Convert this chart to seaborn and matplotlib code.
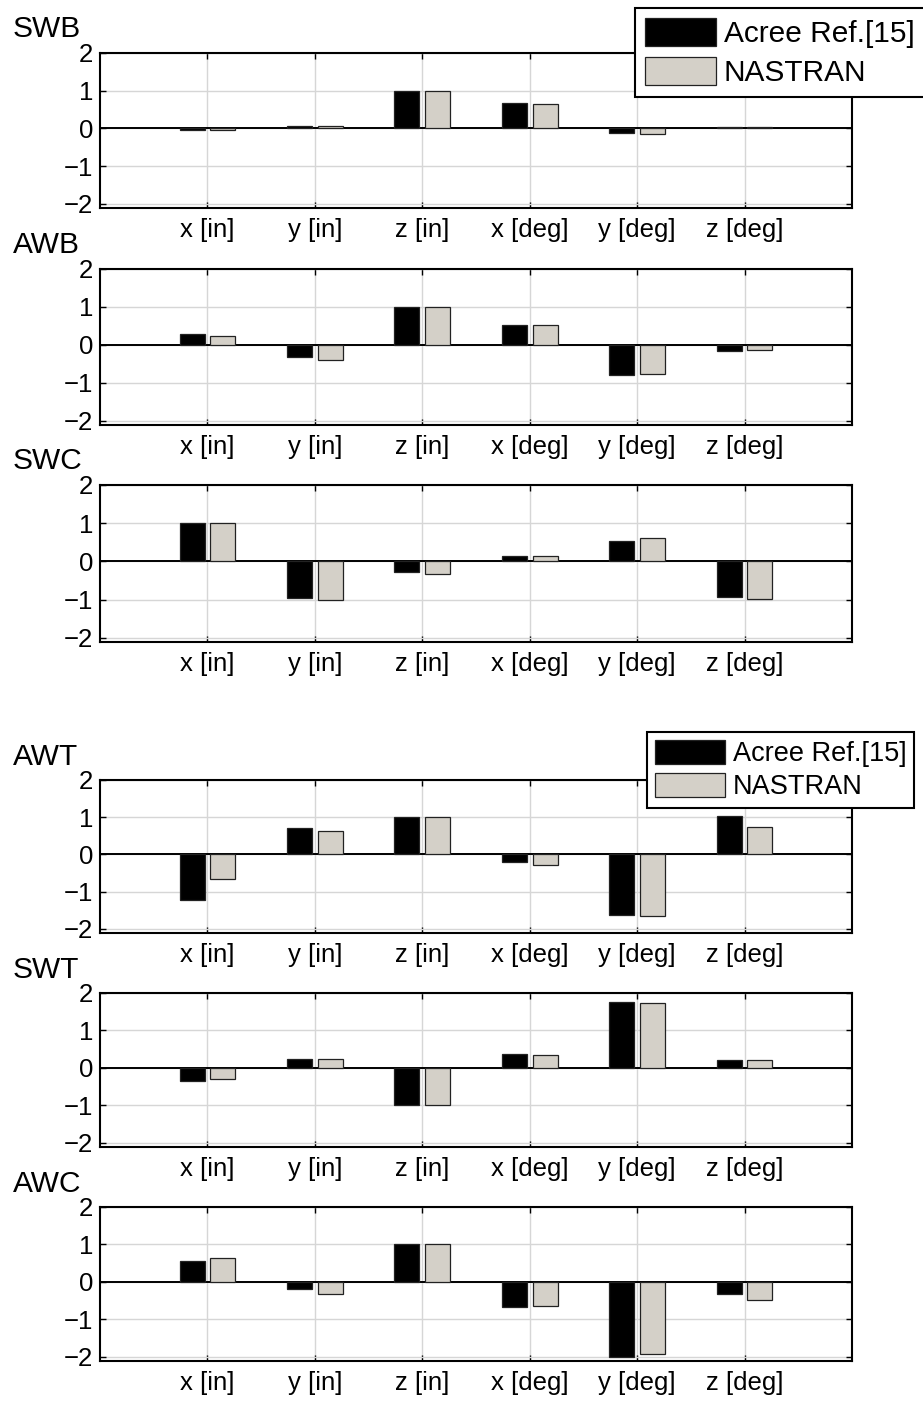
import matplotlib
matplotlib.use("Agg")
import matplotlib.pyplot as plt
import matplotlib.patches as mpatches
import pandas as pd
import seaborn as sns

# ---------------- data ----------------
categories = ["x [in]", "y [in]", "z [in]", "x [deg]", "y [deg]", "z [deg]"]
series_names = ["Acree Ref.[15]", "NASTRAN"]
panel_names = ["SWB", "AWB", "SWC", "AWT", "SWT", "AWC"]

swb_acree = [-0.03, 0.07, 1.00, 0.67, -0.13, 0.03]
swb_nastran = [-0.03, 0.07, 1.00, 0.65, -0.16, 0.03]
awb_acree = [0.30, -0.32, 1.00, 0.52, -0.80, -0.17]
awb_nastran = [0.24, -0.39, 1.00, 0.53, -0.77, -0.14]
swc_acree = [1.00, -0.95, -0.29, 0.15, 0.54, -0.93]
swc_nastran = [1.00, -1.02, -0.34, 0.14, 0.60, -0.99]
awt_acree = [-1.23, 0.70, 1.00, -0.19, -1.62, 1.04]
awt_nastran = [-0.65, 0.64, 1.00, -0.27, -1.66, 0.74]
swt_acree = [-0.35, 0.23, -1.00, 0.36, 1.77, 0.20]
swt_nastran = [-0.29, 0.24, -1.00, 0.35, 1.72, 0.21]
awc_acree = [0.57, -0.18, 1.00, -0.68, -2.00, -0.33]
awc_nastran = [0.63, -0.32, 1.00, -0.65, -1.93, -0.47]

y_ticks = [-2, -1, 0, 1, 2]

panel_data = [
    (swb_acree, swb_nastran),
    (awb_acree, awb_nastran),
    (swc_acree, swc_nastran),
    (awt_acree, awt_nastran),
    (swt_acree, swt_nastran),
    (awc_acree, awc_nastran),
]

# ---------------- style ----------------
sns.set_style("white")
plt.rcParams["font.family"] = ["Liberation Sans", "DejaVu Sans"]
plt.rcParams["text.color"] = "black"

BLACK = "#000000"
GRAY = "#D4D0C8"
palette = [BLACK, GRAY]

W, H = 923, 1401
fig = plt.figure(figsize=(W / 100, H / 100), dpi=100)

left_px, right_px = 100, 852
tops = [53, 269, 485, 780, 993, 1207]
bottoms = [208, 425, 642, 933, 1147, 1361]

axes = []
for name, (acree, nastran), top, bot in zip(panel_names, panel_data, tops, bottoms):
    ax = fig.add_axes([left_px / W, 1 - bot / H, (right_px - left_px) / W, (bot - top) / H])
    df = pd.DataFrame({
        "category": categories * 2,
        "series": [series_names[0]] * len(categories) + [series_names[1]] * len(categories),
        "value": list(acree) + list(nastran),
    })
    sns.barplot(data=df, x="category", y="value", hue="series", order=categories,
                hue_order=series_names, palette=palette, saturation=1,
                width=0.572, gap=0.185, edgecolor="#222222", linewidth=0.9,
                errorbar=None, legend=False, ax=ax, zorder=3)
    ax.set_xlim(-1, len(categories))
    ax.set_ylim(-2.11, 2.0)
    ax.set_yticks(y_ticks)
    ax.set_xlabel("")
    ax.set_ylabel("")
    ax.grid(True, color="#d6d6d6", linewidth=1.0, zorder=0)
    ax.set_axisbelow(True)
    ax.axhline(0, color="black", linewidth=1.4, zorder=2)
    for sp in ax.spines.values():
        sp.set_visible(True)
        sp.set_color("black")
        sp.set_linewidth(1.5)
    ax.tick_params(axis="both", which="major", direction="in", length=4.5, width=1.0,
                   top=True, right=True, bottom=True, left=True, labelsize=18.5,
                   colors="black")
    ax.tick_params(axis="x", pad=7)
    ax.tick_params(axis="y", pad=5)
    ax.text(-0.116, 1.10, name, transform=ax.transAxes, ha="left", va="baseline",
            fontsize=21.5, color="black")
    axes.append(ax)

handles = [mpatches.Patch(facecolor=BLACK, edgecolor="#222222", linewidth=0.9, label=series_names[0]),
           mpatches.Patch(facecolor=GRAY, edgecolor="#222222", linewidth=0.9, label=series_names[1])]

# first legend: its box runs past the right edge of the figure
leg1 = fig.legend(handles=handles, loc="upper left", bbox_to_anchor=(635 / W, 1 - 8 / H),
                  bbox_transform=fig.transFigure, fontsize=21.5, frameon=False,
                  labelcolor="black", handlelength=2.35, handleheight=1.05,
                  handletextpad=0.28, labelspacing=0.3, borderpad=0.35, borderaxespad=0)
frame1 = mpatches.Rectangle((635 / W, 1 - 97 / H), (940 - 635) / W, (97 - 8) / H,
                            transform=fig.transFigure, facecolor="white", edgecolor="black",
                            linewidth=1.5, zorder=4)
fig.patches.append(frame1)
leg1.set_zorder(5)

leg2 = fig.legend(handles=handles, loc="upper left", bbox_to_anchor=(647 / W, 1 - 732 / H),
                  bbox_transform=fig.transFigure, fontsize=19.5, frameon=True, fancybox=False,
                  edgecolor="black", framealpha=1, labelcolor="black",
                  handlelength=2.6, handleheight=1.0,
                  handletextpad=0.3, labelspacing=0.22, borderpad=0.28, borderaxespad=0)
leg2.get_frame().set_linewidth(1.5)

fig.savefig("out.png", dpi=100)
